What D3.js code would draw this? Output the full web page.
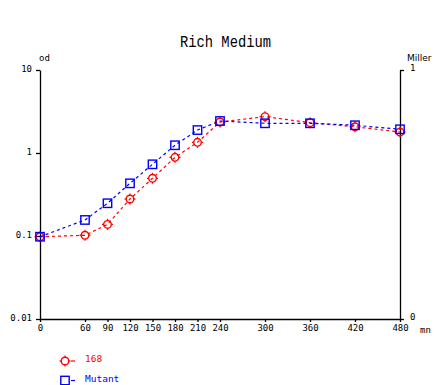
<!DOCTYPE html>
<html><head><meta charset="utf-8">
<script src="https://cdn.jsdelivr.net/npm/d3@7"></script>
<style>body{margin:0;background:#fff}svg{display:block}</style>
</head><body>
<script>
const times = [0, 60, 90, 120, 150, 180, 210, 240, 300, 360, 420, 480];
const wt168 = [0.098, 0.102, 0.138, 0.279, 0.496, 0.887, 1.345, 2.36, 2.74, 2.32, 2.07, 1.79];
const mutant = [0.098, 0.156, 0.248, 0.431, 0.731, 1.24, 1.89, 2.43, 2.28, 2.28, 2.16, 1.93];
const xTicks = [0, 60, 90, 120, 150, 180, 210, 240, 300, 360, 420, 480];
const yTicks = [0.01, 0.1, 1, 10];
const yTickLabels = ["0.01", "0.1", "1", "10"];
const rightTicks = [0, 1];
const seriesNames = ["168", "Mutant"];
const seriesColors = ["#ff0000", "#0000ff"];

const W = 436, H = 385;
const MONO = "DejaVu Sans Mono";
const svg = d3.select("body").append("svg").attr("width", W).attr("height", H)
  .style("font-family", MONO);
const x = d3.scaleLinear().domain([0, 480]).range([40, 400]);
const y = d3.scaleLog().domain([0.01, 10]).range([319, 70]);
const yr = d3.scaleLinear().domain([0, 1]).range([319, 70]);

svg.append("text").attr("x", 180).attr("y", 47)
  .style("font-family", "Liberation Mono").style("font-size", "16px")
  .attr("textLength", 91).attr("lengthAdjust", "spacingAndGlyphs")
  .text("Rich Medium");

const fs = 9;
// left axis
const gl = svg.append("g").attr("transform", "translate(40,0)")
  .call(d3.axisLeft(y).tickValues(yTicks).tickFormat((d, i) => yTickLabels[i]).tickSize(4).tickSizeOuter(0));
// right axis
const gr = svg.append("g").attr("transform", "translate(400,0)")
  .call(d3.axisRight(yr).tickValues(rightTicks).tickFormat(d3.format("d")).tickSize(4).tickSizeOuter(0));
// bottom axis
const gb = svg.append("g").attr("transform", "translate(0,319)")
  .call(d3.axisBottom(x).tickValues(xTicks).tickSize(3).tickSizeOuter(0));
[gl, gr, gb].forEach(g => {
  g.attr("font-family", MONO).attr("font-size", fs);
  g.selectAll("path.domain").attr("stroke", "#000").attr("stroke-width", 1.3);
  g.selectAll(".tick line").attr("stroke", "#000").attr("stroke-width", 1.3);
  g.selectAll(".tick text").attr("fill", "#000");
});
gl.selectAll(".tick text").attr("x", -8).attr("dy", "0.2em");
gr.selectAll(".tick text").attr("x", 10).attr("dy", "0.1em");
gb.selectAll(".tick text").attr("y", 6);

svg.append("text").attr("x", 39).attr("y", 61).style("font-size", fs + "px").text("od");
svg.append("text").attr("x", 407).attr("y", 61).style("font-family", "DejaVu Sans")
  .style("font-size", "9px").text("Miller");
svg.append("text").attr("x", 420).attr("y", 333).style("font-size", fs + "px").text("mn");

function circleMarker(g, cx, cy, color) {
  g.append("circle").attr("cx", cx).attr("cy", cy).attr("r", 3.8)
    .attr("fill", "none").attr("stroke", color).attr("stroke-width", 1.4);
  [[0, -1], [0, 1], [-1, 0], [1, 0]].forEach(([dx, dy]) => {
    g.append("line").attr("x1", cx + dx * 3.8).attr("y1", cy + dy * 3.8)
      .attr("x2", cx + dx * 5.5).attr("y2", cy + dy * 5.5)
      .attr("stroke", color).attr("stroke-width", 1.2);
  });
}
function squareMarker(g, cx, cy, color) {
  g.append("rect").attr("x", cx - 4.2).attr("y", cy - 4.2).attr("width", 8.4).attr("height", 8.4)
    .attr("fill", "none").attr("stroke", color).attr("stroke-width", 1.4);
}

const series = [wt168, mutant];
const markers = [circleMarker, squareMarker];
const line = d3.line().x(d => x(d[0])).y(d => y(d[1]));
series.forEach((vals, si) => {
  const pts = times.map((t, i) => [t, vals[i]]);
  svg.append("path").attr("d", line(pts)).attr("fill", "none")
    .attr("stroke", seriesColors[si]).attr("stroke-width", 1.2).attr("stroke-dasharray", "3,3");
});
series.forEach((vals, si) => {
  const g = svg.append("g");
  times.forEach((t, i) => markers[si](g, x(t), y(vals[i]), seriesColors[si]));
});

// legend
seriesNames.forEach((name, i) => {
  const ly = 361 + i * 19.5;
  const g = svg.append("g");
  markers[i](g, 65, ly, seriesColors[i]);
  g.append("line").attr("x1", 71).attr("x2", 75).attr("y1", ly).attr("y2", ly)
    .attr("stroke", seriesColors[i]).attr("stroke-width", 1.2);
  g.append("text").attr("x", 85).attr("y", ly + 1).style("font-size", "9.5px")
    .attr("fill", seriesColors[i]).text(name);
});
</script>
</body></html>
